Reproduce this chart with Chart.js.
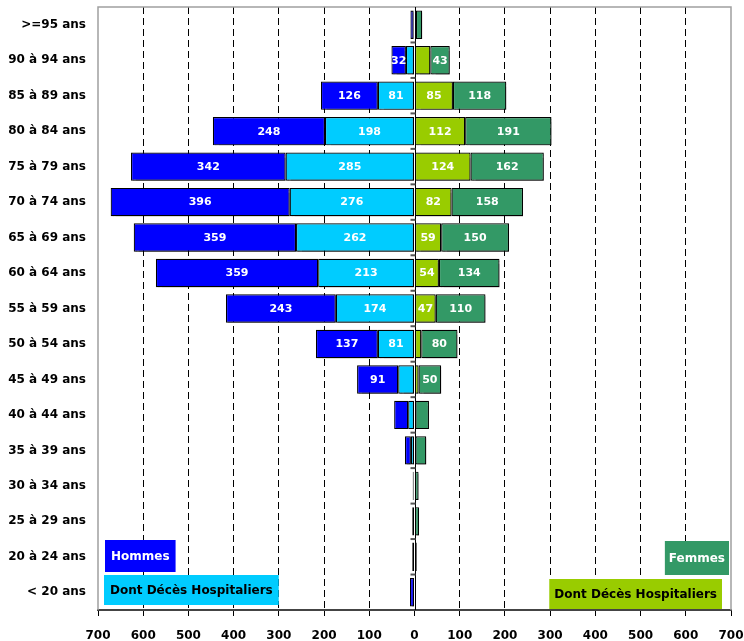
<!DOCTYPE html>
<html>
<head>
<meta charset="utf-8">
<script src="https://cdn.jsdelivr.net/npm/chart.js@4/dist/chart.umd.min.js"></script>
<style>
  html, body { margin: 0; padding: 0; background: #fff; }
  #wrap { width: 744px; height: 641px; }
</style>
</head>
<body>
<div id="wrap"><canvas id="pyramid" width="744" height="641"></canvas></div>
<script>
// Age groups, oldest at the top
const ageGroups = [
  ">=95 ans", "90 à 94 ans", "85 à 89 ans", "80 à 84 ans", "75 à 79 ans",
  "70 à 74 ans", "65 à 69 ans", "60 à 64 ans", "55 à 59 ans", "50 à 54 ans",
  "45 à 49 ans", "40 à 44 ans", "35 à 39 ans", "30 à 34 ans", "25 à 29 ans",
  "20 à 24 ans", "< 20 ans"
];

// Men: deaths outside hospital, and hospital deaths
const hommesAutres   = [7, 32, 126, 248, 342, 396, 359, 359, 243, 137, 91, 31, 13, 2, 5, 5, 10];
const hommesHospital = [2, 19, 81, 198, 285, 276, 262, 213, 174, 81, 36, 14, 8, 2, 0, 0, 0];

// Women: hospital deaths, and deaths outside hospital
const femmesHospital = [3, 35, 85, 112, 124, 82, 59, 54, 47, 15, 9, 2, 2, 0, 0, 0, 0];
const femmesAutres   = [14, 43, 118, 191, 162, 158, 150, 134, 110, 80, 50, 30, 24, 9, 10, 5, 1];

// Axis range and tick step (absolute values on both sides)
const axisMax = 700;
const axisStep = 100;

const FONT = "'DejaVu Sans', sans-serif";

// Soft drop shadow under each bar segment
const barShadow = {
  id: 'barShadow',
  beforeDatasetDraw(chart) {
    const ctx = chart.ctx;
    ctx.save();
    ctx.shadowColor = 'rgba(0,0,0,0.35)';
    ctx.shadowOffsetX = 2;
    ctx.shadowOffsetY = 2;
    ctx.shadowBlur = 1;
  },
  afterDatasetDraw(chart) {
    chart.ctx.restore();
  }
};

// White value labels centred in the larger segments
const segmentLabels = {
  id: 'segmentLabels',
  afterDatasetsDraw(chart) {
    const ctx = chart.ctx;
    ctx.save();
    ctx.font = "bold 11px " + FONT;
    ctx.fillStyle = '#fff';
    ctx.textAlign = 'center';
    ctx.textBaseline = 'middle';
    chart.data.datasets.forEach((ds, di) => {
      const meta = chart.getDatasetMeta(di);
      meta.data.forEach((bar, i) => {
        const v = Math.abs(ds.data[i]);
        if (v < ds.labelMin) return;
        ctx.fillText(String(v), (bar.x + bar.base) / 2, bar.y + 0.5);
      });
    });
    ctx.restore();
  }
};

// Plot frame, centre axis with its small category ticks
const frameAndCentre = {
  id: 'frameAndCentre',
  beforeDatasetsDraw(chart) {
    const { ctx, chartArea: a } = chart;
    ctx.save();
    ctx.strokeStyle = '#a0a0a0';
    ctx.lineWidth = 1.5;
    ctx.beginPath();
    ctx.moveTo(a.left, a.bottom);
    ctx.lineTo(a.left, a.top);
    ctx.lineTo(a.right, a.top);
    ctx.lineTo(a.right, a.bottom);
    ctx.stroke();
    ctx.restore();
  },
  afterDatasetsDraw(chart) {
    const { ctx, chartArea: a, scales } = chart;
    const x0 = Math.round(scales.x.getPixelForValue(0)) + 0.5;
    const y = scales.y;
    ctx.save();
    ctx.strokeStyle = '#000';
    ctx.lineWidth = 1;
    ctx.beginPath();
    ctx.moveTo(x0, a.top);
    ctx.lineTo(x0, a.bottom);
    ctx.stroke();
    ctx.strokeStyle = '#555';
    ctx.lineWidth = 2;
    const n = ageGroups.length;
    for (let i = 1; i < n; i++) {
      const yy = (y.getPixelForValue(i - 1) + y.getPixelForValue(i)) / 2;
      ctx.beginPath();
      ctx.moveTo(x0 - 5, yy);
      ctx.lineTo(x0, yy);
      ctx.stroke();
    }
    ctx.restore();
  }
};

// Coloured caption boxes in the lower corners
const captionBoxes = {
  id: 'captionBoxes',
  afterDraw(chart) {
    const { ctx, chartArea: a } = chart;
    const box = (text, bg, fg, left, top, h, padX, alignRight) => {
      ctx.save();
      ctx.font = "bold 12px " + FONT;
      const w = ctx.measureText(text).width + padX * 2;
      const x = alignRight ? left - w : left;
      ctx.fillStyle = bg;
      ctx.fillRect(x, top, w, h);
      ctx.fillStyle = fg;
      ctx.textAlign = 'center';
      ctx.textBaseline = 'middle';
      ctx.fillText(text, x + w / 2, top + h / 2 + 1);
      ctx.restore();
    };
    box('Hommes', '#0000ff', '#fff', a.left + 7, a.bottom - 70, 32, 6, false);
    box('Dont Décès Hospitaliers', '#00ccff', '#000', a.left + 6, a.bottom - 35, 30, 6, false);
    box('Femmes', '#339966', '#fff', a.right - 2, a.bottom - 69, 34, 4, true);
    box('Dont Décès Hospitaliers', '#99cc00', '#000', a.right - 9, a.bottom - 31, 30, 5, true);
  }
};

const neg = arr => arr.map(v => -v);

new Chart(document.getElementById('pyramid'), {
  type: 'bar',
  data: {
    labels: ageGroups,
    datasets: [
      { label: 'Hommes - décès hospitaliers', data: neg(hommesHospital), backgroundColor: '#00ccff', labelMin: 40 },
      { label: 'Hommes', data: neg(hommesAutres), backgroundColor: '#0000ff', labelMin: 32 },
      { label: 'Femmes - décès hospitaliers', data: femmesHospital, backgroundColor: '#99cc00', labelMin: 40 },
      { label: 'Femmes', data: femmesAutres, backgroundColor: '#339966', labelMin: 40 }
    ]
  },
  options: {
    indexAxis: 'y',
    responsive: false,
    animation: false,
    layout: { padding: { top: 7, right: 13, bottom: 0, left: 0 } },
    datasets: {
      bar: {
        stack: 'pyramide',
        borderColor: '#000',
        borderWidth: 1.2,
        borderSkipped: false,
        barPercentage: 0.8,
        categoryPercentage: 1.0
      }
    },
    plugins: {
      legend: { display: false },
      tooltip: { enabled: false }
    },
    scales: {
      x: {
        stacked: true,
        min: -axisMax,
        max: axisMax,
        afterFit(scale) {
          scale.height = 31;
          scale.paddingLeft = 0;
          scale.paddingRight = 0;
        },
        ticks: {
          stepSize: axisStep,
          autoSkip: false,
          maxRotation: 0,
          padding: 13,
          color: '#000',
          font: { family: FONT, size: 12, weight: 'bold' },
          callback: v => String(Math.abs(v))
        },
        grid: {
          color: c => (c.tick && (c.tick.value === 0 || Math.abs(c.tick.value) === axisMax)) ? 'rgba(0,0,0,0)' : '#000',
          tickColor: '#000',
          tickLength: 6,
          lineWidth: 1
        },
        border: { display: true, color: '#444', width: 2, dash: [7, 4] }
      },
      y: {
        stacked: true,
        afterFit(scale) {
          scale.width = 98;
          scale.paddingTop = 0;
          scale.paddingBottom = 0;
        },
        ticks: {
          padding: 12,
          color: '#000',
          font: { family: FONT, size: 12, weight: 'bold' }
        },
        grid: { display: false, drawTicks: false },
        border: { display: false }
      }
    }
  },
  plugins: [barShadow, frameAndCentre, segmentLabels, captionBoxes]
});
</script>
</body>
</html>
